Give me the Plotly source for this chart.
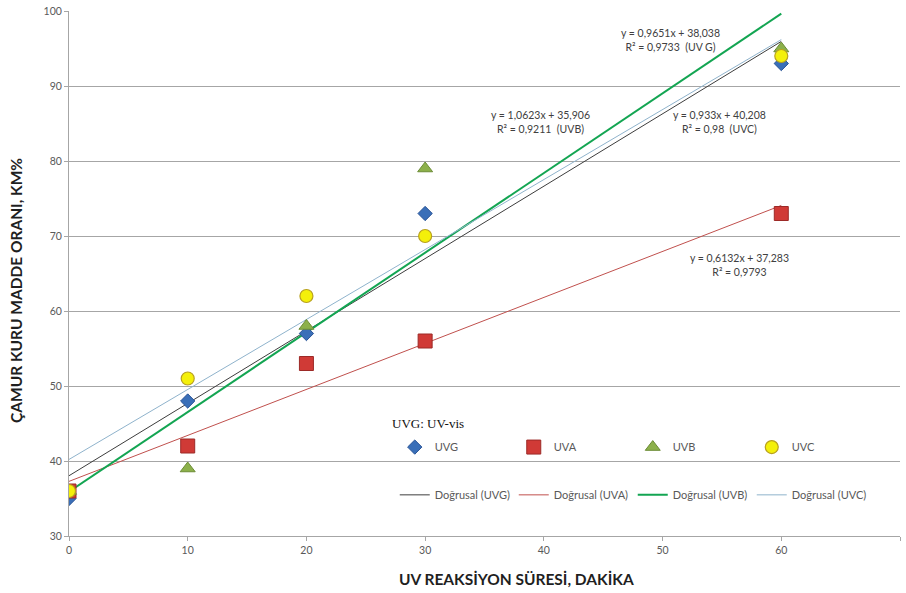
import plotly.graph_objects as go

# UV reaction time (minutes) and sludge dry-matter ratio (KM%) per lamp type
times = [0, 10, 20, 30, 60]
uvg = [35, 48, 57, 73, 93]
uva = [36, 42, 53, 56, 73]
uvb = [36, 39, 58, 79, 95]
uvc = [36, 51, 62, 70, 94]

# Linear fits (slope, intercept, R²) as reported on the chart
fits = {
    "UVG": (0.9651, 38.038, 0.9733),
    "UVA": (0.6132, 37.283, 0.9793),
    "UVB": (1.0623, 35.906, 0.9211),
    "UVC": (0.933, 40.208, 0.98),
}
fit_range = [0, 60]

x_ticks = [0, 10, 20, 30, 40, 50, 60, 70]
y_ticks = [30, 40, 50, 60, 70, 80, 90, 100]

FONT = "Lato"
GRAY = "#595959"

series = [
    ("UVG", uvg, dict(symbol="diamond", size=11, color="#3a6fb8",
                      line=dict(color="#2b5597", width=1))),
    ("UVA", uva, dict(symbol="square", size=14, color="#d03a36",
                      line=dict(color="#9c2a27", width=1))),
    ("UVB", uvb, dict(symbol="triangle-up", size=13, color="#8cb04a",
                      line=dict(color="#6c8c36", width=1))),
    ("UVC", uvc, dict(symbol="circle", size=13, color="#f4f00a",
                      line=dict(color="#b8a020", width=1.2))),
]

line_styles = {
    "UVG": dict(color="#3d3d3d", width=1),
    "UVA": dict(color="#c0504d", width=1),
    "UVB": dict(color="#13a552", width=2),
    "UVC": dict(color="#8fb3cc", width=1),
}

fig = go.Figure()

# Trend lines (second legend)
for name, _, _ in series:
    a, b, _ = fits[name]
    fig.add_trace(go.Scatter(
        x=fit_range, y=[a * x + b for x in fit_range], mode="lines",
        line=line_styles[name], name=f"Doğrusal ({name})",
        legend="legend2", hoverinfo="skip",
    ))

# Measured points (first legend)
for name, vals, marker in series:
    fig.add_trace(go.Scatter(
        x=times, y=vals, mode="markers", marker=marker, name=name,
        legend="legend",
    ))


def eq_text(name, tag):
    a, b, r2 = fits[name]
    def fmt(v):
        s = f"{v:.4f}".rstrip("0").rstrip(".")
        return s.replace(".", ",")
    return f"y = {fmt(a)}x + {fmt(b)}<br>R² = {fmt(r2)}{tag}"


eq_labels = [
    ("UVG", "  (UV G)", 50.7, 96.1),
    ("UVB", "  (UVB)", 39.7, 85.2),
    ("UVC", "  (UVC)", 54.8, 85.2),
    ("UVA", "", 56.5, 66.1),
]
for name, tag, ex, ey in eq_labels:
    fig.add_annotation(
        x=ex, y=ey, xref="x", yref="y", text=eq_text(name, tag),
        showarrow=False, font=dict(family=FONT, size=10.5, color="#404040"),
        align="center",
    )

# Heading above the marker legend
fig.add_annotation(
    x=0.386, y=0.215, xref="paper", yref="paper", xanchor="left",
    yanchor="middle", text="UVG: UV-vis", showarrow=False,
    font=dict(family="Liberation Serif", size=13, color="#111111"),
)

# Axis titles
title_font = dict(family=FONT, size=15.5, color="#1f1f1f")
fig.add_annotation(
    x=0.539, y=-0.082, xref="paper", yref="paper", xanchor="center",
    yanchor="middle", text="<b>UV REAKSİYON SÜRESİ, DAKİKA</b>",
    showarrow=False, font=title_font,
)
fig.add_annotation(
    x=-0.063, y=0.468, xref="paper", yref="paper", xanchor="center",
    yanchor="middle", textangle=-90, text="<b>ÇAMUR KURU MADDE ORANI, KM%</b>",
    showarrow=False, font=title_font,
)

fig.update_layout(
    width=906, height=593,
    margin=dict(l=69, r=6, t=11, b=57),
    paper_bgcolor="white", plot_bgcolor="white",
    font=dict(family=FONT, color=GRAY),
    legend=dict(
        orientation="h", x=0.392, y=0.197, xanchor="left", yanchor="top",
        bgcolor="rgba(0,0,0,0)", entrywidth=74, entrywidthmode="pixels",
        font=dict(family=FONT, size=11, color=GRAY),
        itemclick=False, itemdoubleclick=False,
    ),
    legend2=dict(
        orientation="h", x=0.392, y=0.106, xanchor="left", yanchor="top",
        bgcolor="rgba(0,0,0,0)", entrywidth=74, entrywidthmode="pixels",
        font=dict(family=FONT, size=11, color=GRAY),
        itemclick=False, itemdoubleclick=False,
    ),
    xaxis=dict(
        range=[0, 70], tickvals=x_ticks, showgrid=False, zeroline=False,
        showline=True, linecolor="#a6a6a6", linewidth=1,
        ticks="outside", ticklen=4, tickcolor="#a6a6a6",
        tickfont=dict(family=FONT, size=10.5, color=GRAY),
    ),
    yaxis=dict(
        range=[30, 100], tickvals=y_ticks, showgrid=True, gridcolor="#a6a6a6",
        gridwidth=1, zeroline=False, showline=True, linecolor="#a6a6a6",
        linewidth=1, ticks="outside", ticklen=4, tickcolor="#a6a6a6",
        tickfont=dict(family=FONT, size=10.5, color=GRAY),
    ),
    showlegend=True,
)

fig.write_html("out.html")
